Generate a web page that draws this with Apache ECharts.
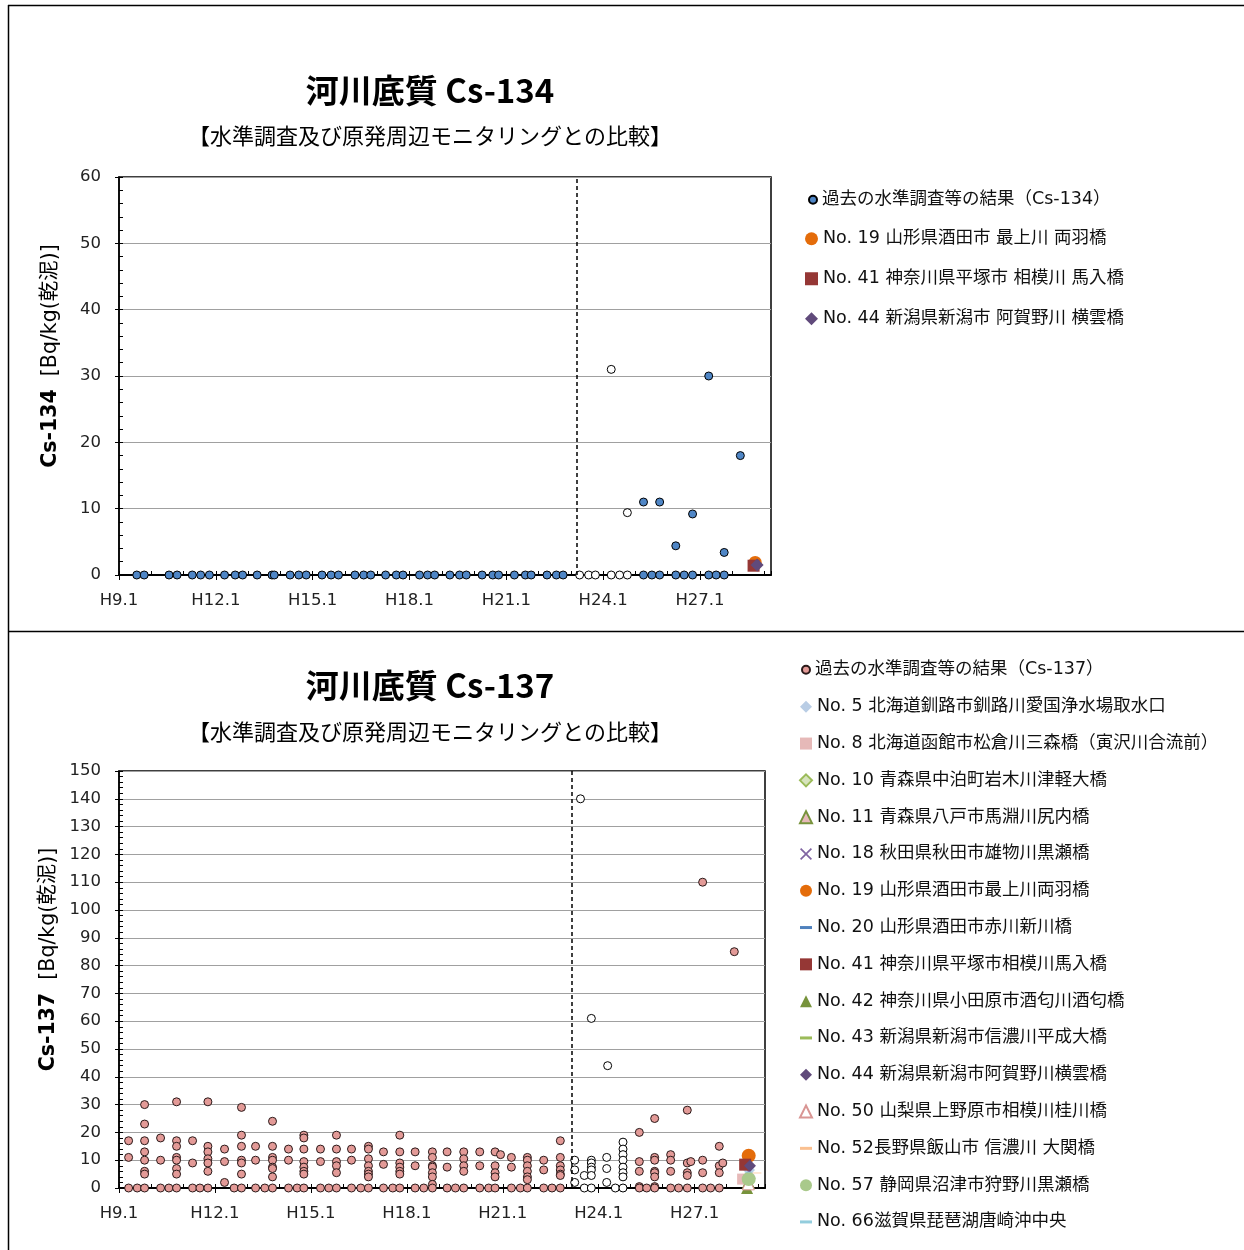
<!DOCTYPE html>
<html>
<head>
<meta charset="utf-8">
<script src="https://cdn.jsdelivr.net/npm/echarts@6/dist/echarts.min.js"></script>
<style>
  html, body { margin: 0; padding: 0; background: #fff; }
  #chart { width: 1244px; height: 1250px; }
</style>
</head>
<body>
<div id="chart"></div>
<script>
// x values are decimal Heisei years (H9.1 = 9.0)
const axisMinYear = 9
const axisMaxYear = 29.2
const accidentDate = 23.17

// ---- Cs-134 ----
const cs134PastDates = [9.55, 9.78, 10.55, 10.8, 11.27, 11.53, 11.8, 12.27, 12.6, 12.83, 13.28, 13.74, 13.81,
  14.3, 14.57, 14.8, 15.29, 15.57, 15.8, 16.31, 16.58, 16.8, 17.26, 17.59, 17.8, 18.31, 18.56, 18.78,
  19.25, 19.55, 19.76, 20.25, 20.58, 20.76, 21.25, 21.59, 21.77, 22.26, 22.55, 22.76,
  25.25, 25.51, 25.75, 26.25, 26.51, 26.77, 27.27, 27.5, 27.75, 28.25]
const cs134PastValues = [[0], [0], [0], [0], [0], [0], [0], [0], [0], [0], [0], [0], [0],
  [0], [0], [0], [0], [0], [0], [0], [0], [0], [0], [0], [0], [0], [0], [0],
  [0], [0], [0], [0], [0], [0], [0], [0], [0], [0], [0], [0],
  [11, 0], [0], [11, 0], [4.4, 0], [0], [9.2, 0], [30, 0], [0], [3.4, 0], [18]]
const cs134MonitorDates = [23.27, 23.55, 23.76, 24.25, 24.51, 24.75]
const cs134MonitorValues = [[0], [0], [0], [31, 0], [0], [9.4, 0]]

const cs134SiteNames = ['No. 19 山形県酒田市 最上川 両羽橋', 'No. 41 神奈川県平塚市 相模川 馬入橋', 'No. 44 新潟県新潟市 阿賀野川 横雲橋']
const cs134SiteDates = [28.71, 28.66, 28.77]
const cs134SiteValues = [1.9, 1.4, 1.5]

// ---- Cs-137 ----
const cs137PastDates = [9.3, 9.57, 9.8, 10.3, 10.56, 10.8, 11.3, 11.53, 11.78, 12.3, 12.6, 12.83,
  13.27, 13.56, 13.8, 14.3, 14.57, 14.78, 15.3, 15.56, 15.8, 16.27, 16.56, 16.8, 17.27, 17.56, 17.78,
  18.26, 18.53, 18.8, 19.26, 19.52, 19.78, 20.28, 20.56, 20.76, 20.93, 21.27, 21.55, 21.77, 22.28, 22.54, 22.8,
  25.27, 25.5, 25.75, 26.25, 26.5, 26.77, 26.88, 27.25, 27.5, 27.77, 27.88, 28.24]
const cs137PastValues = [[17, 11, 0], [0], [30, 23, 17, 13, 10, 6, 5, 0], [18, 10, 0], [0], [31, 17, 15, 11, 10, 7, 5, 0],
  [17, 9, 0], [0], [31, 15, 13, 10.5, 9, 6, 0], [14, 9.5, 2], [0], [29, 19, 15, 10, 9, 5, 0],
  [15, 10, 0], [0], [24, 15, 11, 10, 7.5, 7, 4, 0], [14, 10, 0], [0], [19, 18, 14, 9.5, 7.5, 6, 5, 0],
  [14, 9.5, 0], [0], [19, 14, 9.5, 8, 5.5, 0], [14, 10, 0], [0], [15, 14, 10.5, 8, 6, 5, 4, 0],
  [13, 8.5, 0], [0], [19, 13, 9, 7.5, 6, 5, 0], [13, 8, 0], [0], [13, 11, 8, 7.5, 5.5, 4, 1.3, 0],
  [13, 7.5, 0], [0], [13, 10.5, 8, 6, 0], [13, 8, 0], [0], [13, 8, 5.5, 4, 0], [12],
  [11, 7.5, 0], [0], [11, 10, 8, 6, 4, 3, 0], [10, 6.5, 0], [0], [17, 11, 8, 6.5, 5, 4.5, 0],
  [20, 9.5, 6, 0.5, 0], [0], [25, 11, 10, 6, 5.5, 4, 0.5, 0], [12, 10, 6, 0], [0], [28, 9, 5.5, 4.5, 0], [9.5],
  [110, 10, 5.5, 0], [0], [15, 8, 5.5, 0], [9], [85]]
const cs137MonitorDates = [23.25, 23.43, 23.55, 23.77, 24.25, 24.28, 24.52, 24.76]
const cs137MonitorValues = [[10, 6.5, 2], [140], [4.5, 0], [61, 10, 9, 7.5, 6.5, 4.5, 0], [11, 7, 2], [44], [0],
  [16.5, 14, 12, 10, 7.5, 5.5, 4, 0]]

const cs137SiteNames = [
  'No. 5 北海道釧路市釧路川愛国浄水場取水口',
  'No. 8 北海道函館市松倉川三森橋（寅沢川合流前）',
  'No. 10 青森県中泊町岩木川津軽大橋',
  'No. 11 青森県八戸市馬淵川尻内橋',
  'No. 18 秋田県秋田市雄物川黒瀬橋',
  'No. 19 山形県酒田市最上川両羽橋',
  'No. 20 山形県酒田市赤川新川橋',
  'No. 41 神奈川県平塚市相模川馬入橋',
  'No. 42 神奈川県小田原市酒匂川酒匂橋',
  'No. 43 新潟県新潟市信濃川平成大橋',
  'No. 44 新潟県新潟市阿賀野川横雲橋',
  'No. 50 山梨県上野原市相模川桂川橋',
  'No. 52長野県飯山市 信濃川 大関橋',
  'No. 57 静岡県沼津市狩野川黒瀬橋',
  'No. 66滋賀県琵琶湖唐崎沖中央',
]
const cs137SiteDates = [28.7, 28.5, 28.7, 28.68, 28.7, 28.69, 28.7, 28.58, 28.64, 28.7, 28.73, 28.68, 28.9, 28.69, 28.69]
const cs137SiteValues = [6.5, 3.2, 3.5, 2, 6, 11.6, 4, 8.4, 0, 3, 8, 1.5, 5.4, 3.2, 5.7]

// ---- styles ----
const CJK = "'Noto Sans CJK JP', sans-serif"
const LATIN = "'DejaVu Sans', 'Noto Sans CJK JP', sans-serif"
const dashPath = 'path://M0,0 L12,0 L12,3 L0,3 Z'
const crossPath = 'path://M1,0 L5,4 L9,0 L10,1 L6,5 L10,9 L9,10 L5,6 L1,10 L0,9 L4,5 L0,1 Z'

const cs134SiteStyles = [
  { symbol: 'circle', size: 13, color: '#e46c0a' },
  { symbol: 'rect', size: 12, color: '#953735' },
  { symbol: 'diamond', size: 13, color: '#604a7b' },
]
const cs137SiteStyles = [
  { symbol: 'diamond', size: 12, color: '#b9cde5' },
  { symbol: 'rect', size: 11, color: '#e6b9b8' },
  { symbol: 'diamond', size: 12, color: '#d7e4bd', border: '#9bbb59' },
  { symbol: 'triangle', size: 12, color: '#e6b9b8', border: '#77933c' },
  { symbol: crossPath, size: 11, color: '#8064a2' },
  { symbol: 'circle', size: 14, color: '#e46c0a' },
  { symbol: dashPath, size: [12, 3], color: '#4f81bd' },
  { symbol: 'rect', size: 12, color: '#953735' },
  { symbol: 'triangle', size: 12, color: '#77933c' },
  { symbol: dashPath, size: [12, 3], color: '#9bbb59' },
  { symbol: 'diamond', size: 12, color: '#604a7b' },
  { symbol: 'triangle', size: 12, color: '#ffffff', border: '#d99694' },
  { symbol: dashPath, size: [12, 3], color: '#fac090' },
  { symbol: 'circle', size: 14, color: '#a9c98b' },
  { symbol: dashPath, size: [8, 3], color: '#93cddd' },
]

const toPoints = (dates, values) => {
  const pts = []
  dates.forEach((d, i) => values[i].forEach(v => pts.push([d, v])))
  return pts
}

const siteSeries = (names, dates, values, styles, axisIndex) =>
  names.map((name, i) => ({
    name,
    type: 'scatter',
    xAxisIndex: axisIndex,
    yAxisIndex: axisIndex,
    symbol: styles[i].symbol,
    symbolSize: styles[i].size,
    symbolKeepAspect: true,
    itemStyle: {
      color: styles[i].color,
      borderColor: styles[i].border || styles[i].color,
      borderWidth: styles[i].border ? 1 : 0,
      opacity: 1,
    },
    data: [[dates[i], values[i]]],
  }))

const accidentLine = {
  silent: true,
  symbol: 'none',
  label: { show: false },
  lineStyle: { color: '#000', type: [4, 3], width: 1.5 },
  data: [{ xAxis: accidentDate }],
}

const mainX = (gridIndex) => ({
  type: 'value',
  gridIndex,
  min: axisMinYear,
  max: axisMaxYear,
  interval: 3,
  axisLine: { onZero: false, lineStyle: { color: '#000', width: 2 } },
  axisTick: { show: true, length: 5, lineStyle: { color: '#000' } },
  axisLabel: {
    fontSize: 16.5, color: '#222', fontFamily: LATIN, margin: 17,
    showMaxLabel: false,
    formatter: v => 'H' + v + '.1',
  },
  splitLine: { show: false },
})
const minorX = (gridIndex) => ({
  type: 'value',
  gridIndex,
  position: 'bottom',
  min: axisMinYear,
  max: axisMaxYear,
  interval: 1,
  axisLine: { show: false },
  axisTick: { show: true, inside: true, length: 4, lineStyle: { color: '#000' } },
  axisLabel: { show: false },
  splitLine: { show: false },
})
const mainY = (gridIndex, max, nameRich) => ({
  type: 'value',
  gridIndex,
  min: 0,
  max,
  interval: 10,
  name: nameRich,
  nameLocation: 'middle',
  nameGap: 58,
  nameTextStyle: {
    fontSize: 20.5, color: '#000', fontFamily: LATIN, padding: [0, 0, 0, 40],
    rich: { b: { fontSize: 20.5, fontWeight: 'bold', fontFamily: LATIN, color: '#000' } },
  },
  axisLine: { show: true, lineStyle: { color: '#000', width: 1.5 } },
  axisTick: { show: true, length: 4, lineStyle: { color: '#000' } },
  axisLabel: { fontSize: 16.5, color: '#222', fontFamily: LATIN, margin: 18 },
  splitLine: { show: true, lineStyle: { color: '#a0a0a0', width: 1 } },
})
const minorY = (gridIndex, max) => ({
  type: 'value',
  gridIndex,
  position: 'left',
  min: 0,
  max,
  interval: 2,
  axisLine: { show: false },
  axisTick: { show: true, inside: true, length: 4, lineStyle: { color: '#000' } },
  axisLabel: { show: false },
  splitLine: { show: false },
})

const titleStyle = { fontSize: 33, fontWeight: 'bold', color: '#000', fontFamily: CJK }
const subStyle = { fontSize: 22, fontWeight: 'normal', color: '#000', fontFamily: CJK }
const legendText = { fontSize: 17.5, color: '#111', fontFamily: LATIN }

const chart = echarts.init(document.getElementById('chart'))

const option = {
  animation: false,
  backgroundColor: '#fff',
  title: [
    { text: '河川底質 Cs-134', left: 430, top: 74, textAlign: 'center', padding: 0, textStyle: titleStyle },
    { text: '【水準調査及び原発周辺モニタリングとの比較】', left: 430, top: 125, textAlign: 'center', padding: 0, textStyle: subStyle },
    { text: '河川底質 Cs-137', left: 430, top: 669, textAlign: 'center', padding: 0, textStyle: titleStyle },
    { text: '【水準調査及び原発周辺モニタリングとの比較】', left: 430, top: 721, textAlign: 'center', padding: 0, textStyle: subStyle },
  ],
  grid: [
    { left: 119, top: 177, width: 652, height: 398, show: true, borderColor: '#000', borderWidth: 1.5, backgroundColor: 'transparent' },
    { left: 119, top: 771, width: 646, height: 417, show: true, borderColor: '#000', borderWidth: 1.5, backgroundColor: 'transparent' },
  ],
  legend: [
    { data: ['過去の水準調査等の結果（Cs-134）'], orient: 'vertical', left: 808, top: 191, padding: 0,
      itemWidth: 8, itemHeight: 8, textStyle: legendText, selectedMode: false },
    { data: cs134SiteNames, orient: 'vertical', left: 805, top: 230, padding: 0, itemGap: 22.5,
      itemWidth: 13, itemHeight: 13, textStyle: legendText, selectedMode: false },
    { data: ['過去の水準調査等の結果（Cs-137）'], orient: 'vertical', left: 801, top: 661, padding: 0,
      itemWidth: 8, itemHeight: 8, textStyle: legendText, selectedMode: false },
    { data: cs137SiteNames, orient: 'vertical', left: 799, top: 698, padding: 0, itemGap: 19.3,
      itemWidth: 12, itemHeight: 12, textStyle: legendText, selectedMode: false, symbolKeepAspect: true },
  ],
  xAxis: [mainX(0), minorX(0), mainX(1), minorX(1)],
  yAxis: [
    mainY(0, 60, '{b|Cs-134}  [Bq/kg(乾泥)]'), minorY(0, 60),
    mainY(1, 150, '{b|Cs-137}  [Bq/kg(乾泥)]'), minorY(1, 150),
  ],
  graphic: [
    { type: 'line', shape: { x1: 8, y1: 5.5, x2: 1244, y2: 5.5 }, style: { stroke: '#000', lineWidth: 1.5 } },
    { type: 'line', shape: { x1: 8.5, y1: 5, x2: 8.5, y2: 1250 }, style: { stroke: '#000', lineWidth: 1.5 } },
    { type: 'line', shape: { x1: 8, y1: 631.5, x2: 1244, y2: 631.5 }, style: { stroke: '#000', lineWidth: 1.5 } },
  ],
  series: [
    {
      name: '過去の水準調査等の結果（Cs-134）',
      type: 'scatter',
      xAxisIndex: 0, yAxisIndex: 0,
      symbolSize: 8,
      itemStyle: { color: '#4f86c6', borderColor: '#000', borderWidth: 1, opacity: 1 },
      data: toPoints(cs134PastDates, cs134PastValues),
      markLine: accidentLine,
    },
    {
      name: '原発周辺モニタリング（Cs-134）',
      type: 'scatter',
      xAxisIndex: 0, yAxisIndex: 0,
      symbolSize: 8,
      itemStyle: { color: '#fff', borderColor: '#000', borderWidth: 1, opacity: 1 },
      data: toPoints(cs134MonitorDates, cs134MonitorValues),
    },
    ...siteSeries(cs134SiteNames, cs134SiteDates, cs134SiteValues, cs134SiteStyles, 0),
    {
      name: '過去の水準調査等の結果（Cs-137）',
      type: 'scatter',
      xAxisIndex: 2, yAxisIndex: 2,
      symbolSize: 8,
      itemStyle: { color: '#e39a97', borderColor: '#2a1a1a', borderWidth: 1, opacity: 1 },
      data: toPoints(cs137PastDates, cs137PastValues),
      markLine: accidentLine,
    },
    {
      name: '原発周辺モニタリング（Cs-137）',
      type: 'scatter',
      xAxisIndex: 2, yAxisIndex: 2,
      symbolSize: 8,
      itemStyle: { color: '#fff', borderColor: '#000', borderWidth: 1, opacity: 1 },
      data: toPoints(cs137MonitorDates, cs137MonitorValues),
    },
    ...siteSeries(cs137SiteNames, cs137SiteDates, cs137SiteValues, cs137SiteStyles, 2),
  ],
}

chart.setOption(option)
window.addEventListener('resize', () => chart.resize())
</script>
</body>
</html>
